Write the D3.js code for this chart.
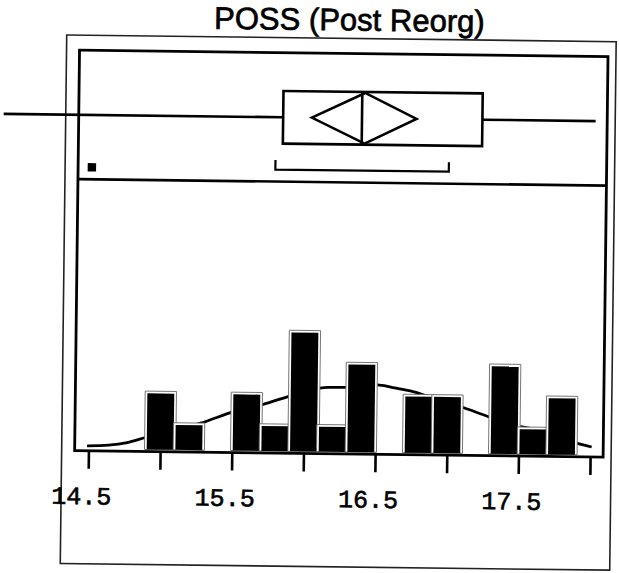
<!DOCTYPE html>
<html>
<head>
<meta charset="utf-8">
<script src="https://cdn.jsdelivr.net/npm/d3@7/dist/d3.min.js"></script>
<style>
  html, body { margin: 0; padding: 0; background: #fff; }
  svg { display: block; }
</style>
</head>
<body>
<svg id="chart" width="619" height="573"></svg>
<script>
// ---------- data ----------
const titleText = "POSS (Post Reorg)";
const binWidth = 0.2;
const binStart = [14.9, 15.1, 15.3, 15.5, 15.7, 15.9, 16.1, 16.3, 16.5, 16.7, 16.9, 17.1, 17.3, 17.5, 17.7];
const binCount = [2, 1, 0, 2, 1, 4, 1, 3, 0, 2, 2, 0, 3, 1, 2];

const densityX = [14.49, 14.64, 14.77, 14.89, 15.10, 15.28, 15.51, 15.72, 15.90, 16.16, 16.30,
                  16.51, 16.61, 16.74, 16.88, 17.11, 17.30, 17.49, 17.58, 17.72, 17.91, 18.01];
const densityY = [0.27, 0.30, 0.39, 0.55, 0.81, 1.04, 1.42, 1.67, 1.94, 2.23, 2.24,
                  2.33, 2.26, 2.15, 1.96, 1.64, 1.34, 1.07, 1.00, 0.80, 0.54, 0.43];

const tickValues = [14.5, 15.0, 15.5, 16.0, 16.5, 17.0, 17.5, 18.0];
const tickLabels = ["14.5", "", "15.5", "", "16.5", "", "17.5", ""];

const whiskerLow = 13.88, q1 = 15.83, median = 16.38, q3 = 17.22, whiskerHigh = 18.01;
const meanValue = 16.40, meanCILow = 16.03, meanCIHigh = 16.76;
const shortestHalf = [15.78, 16.99];
const pointValues = [14.5];

// ---------- layout ----------
const svg = d3.select("#chart");
const g = svg.append("g").attr("transform", "rotate(0.7 310 300)");

const outer = {x0: 63.5, x1: 613, y0: 38, y1: 566.5};
const inner = {x0: 76.5, x1: 605, y0: 53, y1: 453.5, sep: 182};
const boxY = {top: 91.3, bottom: 144, mid: 117.6};
const bracketY = 170, bracketTop = 160.5;
const barBase = 451.5;

const x = d3.scaleLinear().domain([14.5, 18]).range([90.3, 592]);
const y = d3.scaleLinear().domain([0, 4]).range([457, 331.8]);

// title
g.append("text")
  .attr("x", 346).attr("y", 30)
  .attr("text-anchor", "middle")
  .attr("font-family", "'Liberation Sans', Arial, sans-serif")
  .attr("font-size", 31)
  .attr("fill", "#000").attr("stroke", "#000").attr("stroke-width", 0.7)
  .text(titleText);

// outer frame
g.append("rect")
  .attr("x", outer.x0).attr("y", outer.y0)
  .attr("width", outer.x1 - outer.x0).attr("height", outer.y1 - outer.y0)
  .attr("fill", "none").attr("stroke", "#222").attr("stroke-width", 1.6);

// density curve (behind bars)
const line = d3.line()
  .x((d, i) => x(densityX[i]))
  .y((d, i) => y(densityY[i]))
  .curve(d3.curveMonotoneX);
g.append("path")
  .datum(densityX)
  .attr("d", line)
  .attr("fill", "none").attr("stroke", "#000").attr("stroke-width", 2.8);

// histogram bars
const bars = g.append("g");
binStart.forEach((b, i) => {
  if (binCount[i] === 0) return;
  const bx0 = x(b), bx1 = x(b + binWidth), by = y(binCount[i]);
  bars.append("rect")
    .attr("x", bx0 - 1.3).attr("y", by - 1.3)
    .attr("width", bx1 - bx0 + 2.6).attr("height", barBase - by + 1.3)
    .attr("fill", "#fff").attr("stroke", "#666").attr("stroke-width", 0.9);
  bars.append("rect")
    .attr("x", bx0 + 0.9).attr("y", by + 0.9)
    .attr("width", bx1 - bx0 - 1.8).attr("height", barBase - by - 0.9)
    .attr("fill", "#000");
});

// inner frame
g.append("rect")
  .attr("x", inner.x0).attr("y", inner.y0)
  .attr("width", inner.x1 - inner.x0).attr("height", inner.y1 - inner.y0)
  .attr("fill", "none").attr("stroke", "#000").attr("stroke-width", 2.8);
g.append("line")
  .attr("x1", inner.x0).attr("x2", inner.x1)
  .attr("y1", inner.sep).attr("y2", inner.sep)
  .attr("stroke", "#000").attr("stroke-width", 2.6);

// box plot
const bp = g.append("g").attr("stroke", "#000").attr("stroke-width", 2.6).attr("fill", "none");
bp.append("line").attr("x1", x(whiskerLow)).attr("x2", x(q1))
  .attr("y1", boxY.mid).attr("y2", boxY.mid);
bp.append("line").attr("x1", x(q3)).attr("x2", x(whiskerHigh))
  .attr("y1", boxY.mid).attr("y2", boxY.mid);
bp.append("rect").attr("x", x(q1)).attr("y", boxY.top)
  .attr("width", x(q3) - x(q1)).attr("height", boxY.bottom - boxY.top);
bp.append("line").attr("x1", x(median)).attr("x2", x(median))
  .attr("y1", boxY.top).attr("y2", boxY.bottom);
bp.append("path").attr("d", [
  "M", x(meanCILow), boxY.mid,
  "L", x(meanValue), boxY.top + 1,
  "L", x(meanCIHigh), boxY.mid,
  "L", x(meanValue), boxY.bottom - 1, "Z"].join(" "))
  .attr("stroke-linejoin", "miter");
// shortest half bracket
bp.append("path").attr("d", [
  "M", x(shortestHalf[0]), bracketTop,
  "L", x(shortestHalf[0]), bracketY,
  "L", x(shortestHalf[1]), bracketY,
  "L", x(shortestHalf[1]), bracketTop].join(" "))
  .attr("stroke-width", 2.2);
// points
g.selectAll("rect.pt").data(pointValues).enter().append("rect")
  .attr("class", "pt")
  .attr("x", d => x(d) - 4.2).attr("y", bracketY - 4.2)
  .attr("width", 8.4).attr("height", 8.4).attr("fill", "#000");

// x axis
const axis = d3.axisBottom(x)
  .tickValues(tickValues)
  .tickSize(18)
  .tickFormat((d, i) => tickLabels[i]);
const ax = g.append("g").attr("transform", `translate(0,${inner.y1})`).call(axis);
ax.select(".domain").remove();
ax.selectAll(".tick line").attr("stroke", "#000").attr("stroke-width", 2.6);
ax.selectAll(".tick text")
  .attr("y", 53.5).attr("dy", 0).attr("dx", -7)
  .attr("fill", "#000").attr("stroke", "#000").attr("stroke-width", 0.6)
  .attr("font-family", "'Liberation Mono', 'Courier New', monospace")
  .attr("font-size", 25);
</script>
</body>
</html>
